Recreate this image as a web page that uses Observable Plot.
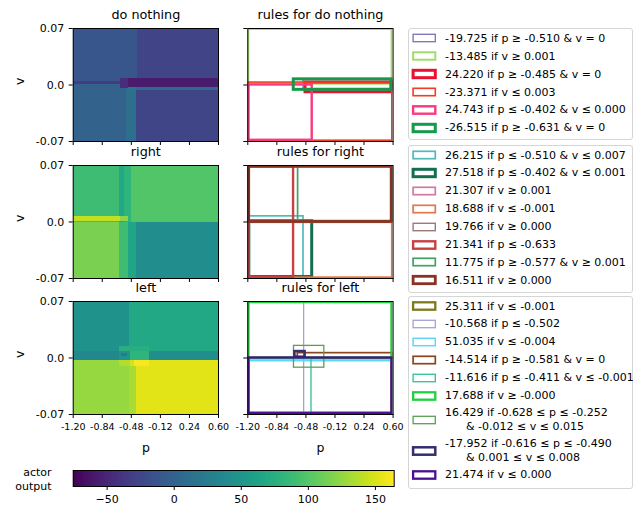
<!DOCTYPE html>
<html>
<head>
<meta charset="utf-8">
<script src="https://cdn.jsdelivr.net/npm/d3@7"></script>
<script src="https://cdn.jsdelivr.net/npm/@observablehq/plot@0.6"></script>
<style>
  html, body { margin: 0; padding: 0; background: #fff; }
  #fig { position: relative; width: 636px; height: 510px; overflow: hidden; background: #fff;
         font-family: "DejaVu Sans", sans-serif; color: #000; }
  .legend { position: absolute; border: 1px solid #d5d5d5; border-radius: 3px; background: #fff; box-sizing: border-box; }
  .ltext { position: absolute; font-size: 11px; white-space: pre; color: #000; }
</style>
</head>
<body>
<div id="fig"></div>
<script>
// ---------------- data ----------------
const actions = ["do nothing", "right", "left"];
const ruleTitles = ["rules for do nothing", "rules for right", "rules for left"];
const pDomain = [-1.2, 0.6];
const vDomain = [-0.07, 0.07];
const pTicks = [-1.2, -0.84, -0.48, -0.12, 0.24, 0.6];
const pTickLabels = ["-1.20", "-0.84", "-0.48", "-0.12", "0.24", "0.60"];
const vTicks = [-0.07, 0, 0.07];
const vTickLabels = ["-0.07", "0.0", "0.07"];
const colorDomain = [-75.3, 164];
const cbTicks = [-50, 0, 50, 100, 150];
const cbTickLabels = ["\u221250", "0", "50", "100", "150"];

// heatmap regions: [p1, p2, v1, v2, actor output]
const heatNothing = [
  [-1.2, -0.40, 0.001, 0.07, -11],
  [-0.40, 0.6, -0.001, 0.07, -27],
  [-1.2, -0.54, -0.07, 0.001, 0],
  [-0.54, -0.41, -0.07, 0.001, 11],
  [-0.41, 0.6, -0.07, -0.001, -26],
  [-1.2, -0.62, 0.001, 0.004, -34],
  [-0.62, -0.51, -0.004, 0.0075, -45],
  [-0.51, 0.6, -0.003, 0.0075, -58],
  [-0.51, -0.41, -0.009, -0.003, 16],
  [-0.41, 0.6, -0.007, -0.003, 6]
];
const heatRight = [
  [-1.2, -0.625, 0.0, 0.07, 90],
  [-0.625, -0.565, 0.0, 0.07, 68],
  [-0.565, -0.48, 0.0, 0.07, 80],
  [-0.48, 0.6, 0.0, 0.07, 99],
  [-1.2, -0.625, -0.07, 0.0, 116],
  [-0.625, -0.52, -0.07, 0.0, 90],
  [-0.52, -0.41, -0.07, 0.0, 66],
  [-0.41, 0.6, -0.07, 0.0, 42],
  [-1.2, -0.62, 0.0006, 0.0073, 142],
  [-0.62, -0.52, 0.0006, 0.0073, 122]
];
const heatLeft = [
  [-1.2, -0.50, 0.008, 0.07, 47],
  [-0.50, 0.6, 0.008, 0.07, 68],
  [-1.2, -0.50, -0.003, 0.008, 36],
  [-0.50, 0.6, -0.003, 0.008, 42],
  [-1.2, -0.50, -0.07, -0.003, 126],
  [-0.50, -0.41, -0.07, -0.003, 133],
  [-0.41, 0.6, -0.07, -0.003, 153],
  [-0.625, -0.25, 0.008, 0.0145, 75],
  [-0.625, -0.49, -0.003, 0.008, 48],
  [-0.60, -0.53, 0.002, 0.006, 22],
  [-0.49, -0.25, -0.003, 0.008, 80],
  [-0.625, -0.49, -0.011, -0.003, 136],
  [-0.49, -0.44, -0.011, -0.003, 148],
  [-0.44, -0.25, -0.011, -0.003, 162]
];

// rules: value, condition text, bounds [p1, p2, v1, v2]
const rulesNothingValue = [-19.725, -13.485, 24.220, -23.371, 24.743, -26.515];
const rulesNothingCond = ["p \u2265 -0.510 & v = 0", "v \u2265 0.001", "p \u2265 -0.485 & v = 0",
  "v \u2264 0.003", "p \u2264 -0.402 & v \u2264 0.000", "p \u2265 -0.631 & v = 0"];
const rulesNothingBounds = [
  [-0.510, 0.6, -0.005, 0.006], [-1.2, 0.6, 0.001, 0.07], [-0.485, 0.6, -0.009, 0.003],
  [-1.2, 0.6, -0.07, 0.003], [-1.2, -0.402, -0.07, 0.0], [-0.631, 0.6, -0.006, 0.007]
];
const rulesRightValue = [26.215, 27.518, 21.307, 18.688, 19.766, 21.341, 11.775, 16.511];
const rulesRightCond = ["p \u2264 -0.510 & v \u2264 0.007", "p \u2264 -0.402 & v \u2264 0.001", "v \u2265 0.001",
  "v \u2264 -0.001", "v \u2265 0.000", "p \u2264 -0.633", "p \u2265 -0.577 & v \u2265 0.001", "v \u2265 0.000"];
const rulesRightBounds = [
  [-1.2, -0.510, -0.07, 0.007], [-1.2, -0.402, -0.07, 0.001], [-1.2, 0.6, 0.001, 0.07],
  [-1.2, 0.6, -0.07, -0.001], [-1.2, 0.6, 0.0, 0.07], [-1.2, -0.633, -0.07, 0.07],
  [-0.577, 0.6, 0.001, 0.07], [-1.2, 0.6, 0.0, 0.07]
];
const rulesLeftValue = [25.311, -10.568, 51.035, -14.514, -11.616, 17.688, 16.429, -17.952, 21.474];
const rulesLeftCond = ["v \u2264 -0.001", "p \u2264 -0.502", "v \u2264 -0.004", "p \u2265 -0.581 & v = 0",
  "p \u2264 -0.411 & v \u2264 -0.001", "v \u2265 -0.000",
  "-0.628 \u2264 p \u2264 -0.252\n      & -0.012 \u2264 v \u2264 0.015",
  "-0.616 \u2264 p \u2264 -0.490\n      & 0.001 \u2264 v \u2264 0.008", "v \u2264 0.000"];
const rulesLeftBounds = [
  [-1.2, 0.6, -0.07, -0.001], [-1.2, -0.502, -0.07, 0.07], [-1.2, 0.6, -0.07, -0.004],
  [-0.581, 0.6, -0.0005, 0.006], [-1.2, -0.411, -0.07, -0.001], [-1.2, 0.6, 0.0, 0.07],
  [-0.628, -0.252, -0.012, 0.015], [-0.616, -0.490, 0.001, 0.008], [-1.2, 0.6, -0.07, 0.0]
];

// ---------------- styles ----------------
const rulesNothingColor = ["#7b6fb8", "#a2dd6a", "#ec1030", "#f43c1e", "#f83a80", "#149a4a"];
const rulesNothingWidth = [1.3, 2.0, 3.0, 1.6, 2.4, 3.0];
const rulesRightColor = ["#52b9b9", "#156e4e", "#d47aa2", "#e3774a", "#9a7b78", "#c94043", "#3fa464", "#8a3324"];
const rulesRightWidth = [1.7, 3.0, 1.7, 1.7, 1.4, 2.4, 1.7, 2.8];
const rulesLeftColor = ["#7c7a1c", "#a3a3d1", "#5fd8f6", "#8d4519", "#3cc49a", "#1ed13a", "#5b9f55", "#332e6e", "#4a0f92"];
const rulesLeftWidth = [2.3, 1.3, 1.5, 1.7, 1.4, 2.3, 1.3, 2.5, 2.3];

// ---------------- layout ----------------
const fig = document.getElementById("fig");
const svgns = "http://www.w3.org/2000/svg";
const colorOpts = {type: "linear", scheme: "viridis", domain: colorDomain};
const FRAME_W = 145.3, FRAME_H = 113;
const colX = [72.7, 247.3];
const rowY = [27.7, 164.7, 301.3];
const baseStyle = {background: "transparent", color: "black", fontFamily: "DejaVu Sans, sans-serif", overflow: "visible"};

function place(node, left, top) {
  node.style.position = "absolute";
  node.style.left = left + "px";
  node.style.top = top + "px";
  fig.appendChild(node);
}

function panel(row, col, title, marks) {
  const mt = 24, mb = row === 2 ? 48 : 8, ml = col === 0 ? 72.7 : 17.3, mr = 12;
  const svg = Plot.plot({
    width: ml + FRAME_W + mr, height: mt + FRAME_H + mb,
    marginTop: mt, marginBottom: mb, marginLeft: ml, marginRight: mr,
    style: baseStyle,
    x: {domain: pDomain, axis: null},
    y: {domain: vDomain, axis: null},
    color: colorOpts,
    marks: [
      ...marks,
      Plot.frame({stroke: "black", strokeWidth: 1}),
      Plot.axisX({ticks: pTicks, tickSize: 4, tickPadding: 5, fontSize: 9.5, label: null,
        tickFormat: row === 2 ? (d) => pTickLabels[pTicks.indexOf(d)] : () => ""}),
      Plot.axisY({ticks: vTicks, tickSize: 4, tickPadding: 5, fontSize: 11, label: null,
        tickFormat: col === 0 ? (d) => vTickLabels[vTicks.indexOf(d)] : () => ""}),
      Plot.text([title], {frameAnchor: "top", lineAnchor: "middle", dy: -13.5, fontSize: 12.8}),
      ...(col === 0 ? [Plot.text(["v"], {frameAnchor: "left", lineAnchor: "middle", dx: -52.7, rotate: -90, fontSize: 12.5})] : []),
      ...(row === 2 ? [Plot.text(["p"], {frameAnchor: "bottom", lineAnchor: "middle", dy: 33.5, fontSize: 12.5})] : [])
    ]
  });
  place(svg, colX[col] - ml, rowY[row] - mt);
}

function heatMarks(cells) {
  return [Plot.rect(cells, {x1: (d) => d[0], x2: (d) => d[1], y1: (d) => d[2], y2: (d) => d[3],
    fill: (d) => d[4], shapeRendering: "crispEdges"})];
}
function ruleMarks(bounds, colors, widths) {
  return bounds.map((b, i) => {
    const half = widths[i] / 2;
    return Plot.rect([b], {x1: (d) => d[0], x2: (d) => d[1], y1: (d) => d[2], y2: (d) => d[3],
      fill: "none", stroke: colors[i], strokeWidth: widths[i], clip: true,
      insetLeft: b[0] <= pDomain[0] ? half : 0,
      insetRight: b[1] >= pDomain[1] ? half : 0,
      insetBottom: b[2] <= vDomain[0] ? half : 0,
      insetTop: b[3] >= vDomain[1] ? half : 0});
  });
}

const heats = [heatNothing, heatRight, heatLeft];
const ruleSets = [
  [rulesNothingBounds, rulesNothingColor, rulesNothingWidth],
  [rulesRightBounds, rulesRightColor, rulesRightWidth],
  [rulesLeftBounds, rulesLeftColor, rulesLeftWidth]
];
for (let r = 0; r < 3; r++) {
  panel(r, 0, actions[r], heatMarks(heats[r]));
  panel(r, 1, ruleTitles[r], ruleMarks(...ruleSets[r]));
}

// ---------------- colorbar ----------------
const nRamp = 321;
const rampStep = (colorDomain[1] - colorDomain[0]) / nRamp;
const rampCells = d3.range(nRamp).map((i) => [colorDomain[0] + i * rampStep, colorDomain[0] + (i + 1) * rampStep]);
const cb = Plot.plot({
  width: 410, height: 50, marginLeft: 72.7, marginRight: 16.3, marginTop: 10, marginBottom: 24,
  style: baseStyle,
  x: {domain: colorDomain, axis: null},
  y: {domain: [0, 1], axis: null},
  color: colorOpts,
  marks: [
    Plot.rect(rampCells, {x1: (d) => d[0], x2: (d) => d[1], y1: () => 0, y2: () => 1,
      fill: (d) => (d[0] + d[1]) / 2, shapeRendering: "crispEdges"}),
    Plot.frame({stroke: "black", strokeWidth: 1}),
    Plot.axisX({ticks: cbTicks, tickSize: 4, tickPadding: 5, fontSize: 11, label: null,
      tickFormat: (d) => cbTickLabels[cbTicks.indexOf(d)]}),
    Plot.text(["actor\noutput"], {frameAnchor: "left", lineAnchor: "middle", dx: -21.7, textAnchor: "end", fontSize: 11, lineHeight: 1.32})
  ]
});
place(cb, 0, 460);

// ---------------- legends ----------------
function legend(box, values, conds, colors, widths) {
  const div = document.createElement("div");
  div.className = "legend";
  Object.assign(div.style, {left: box.left + "px", top: box.top + "px", width: box.width + "px", height: box.height + "px"});
  fig.appendChild(div);
  let y = box.firstCenter - 6.2;
  values.forEach((v, i) => {
    const label = v.toFixed(3) + " if " + conds[i];
    const lines = label.split("\n").length;
    const h = lines === 1 ? 12.4 : 25.2;
    const cy = y + h / 2;
    const sw = document.createElementNS(svgns, "svg");
    sw.setAttribute("width", 30);
    sw.setAttribute("height", 14);
    const rect = document.createElementNS(svgns, "rect");
    rect.setAttribute("x", 424.2 - 11.1 - 409);
    rect.setAttribute("y", 7 - 3.7);
    rect.setAttribute("width", 22.2);
    rect.setAttribute("height", 7.4);
    rect.setAttribute("fill", "#fff");
    rect.setAttribute("stroke", colors[i]);
    rect.setAttribute("stroke-width", widths[i]);
    sw.appendChild(rect);
    place(sw, 409, cy - 7);
    const t = document.createElement("div");
    t.className = "ltext";
    const lh = lines === 1 ? 13 : 14;
    t.style.lineHeight = lh + "px";
    t.textContent = label;
    place(t, 445, cy - (lines * lh) / 2);
    y += h + 5.5;
  });
}
legend({left: 408, top: 28.3, width: 225, height: 111.7, firstCenter: 38.3},
  rulesNothingValue, rulesNothingCond, rulesNothingColor, rulesNothingWidth);
legend({left: 408, top: 145, width: 225, height: 147.7, firstCenter: 155},
  rulesRightValue, rulesRightCond, rulesRightColor, rulesRightWidth);
legend({left: 408, top: 296, width: 225, height: 192.7, firstCenter: 306},
  rulesLeftValue, rulesLeftCond, rulesLeftColor, rulesLeftWidth);
</script>
</body>
</html>
